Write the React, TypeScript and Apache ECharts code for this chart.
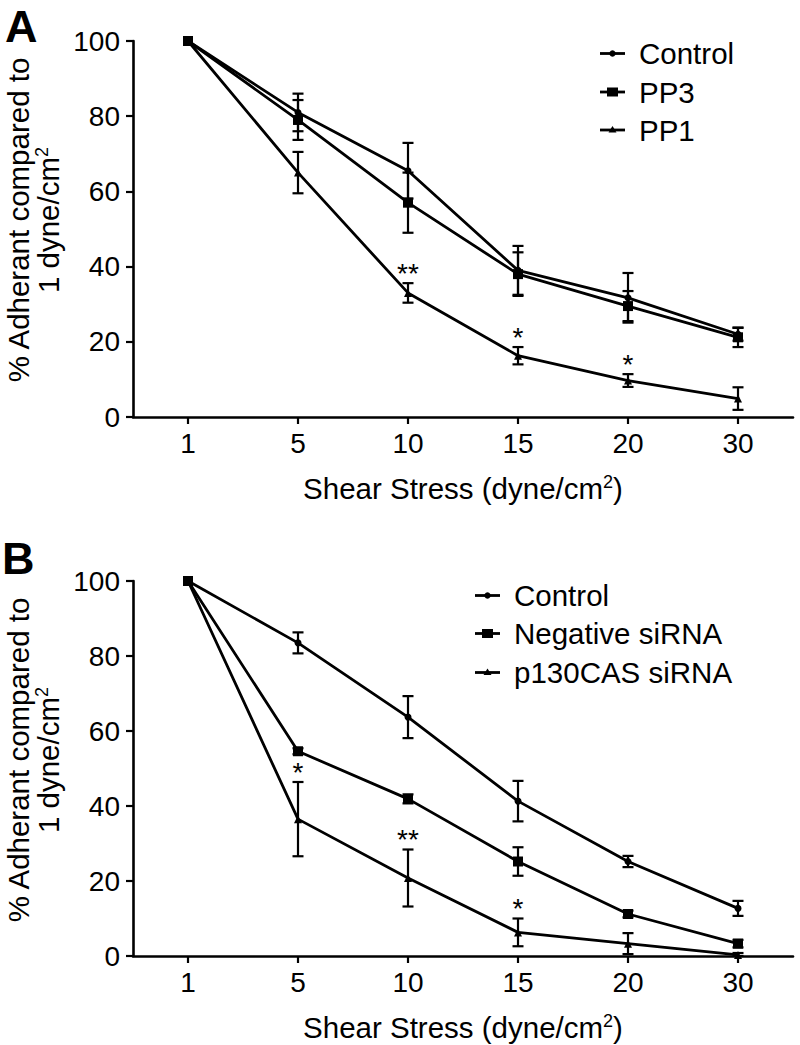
import React, { useEffect, useRef } from "react";
import * as echarts from "echarts";

const categories = ["1", "5", "10", "15", "20", "30"];

// Panel A
const controlA = [100, 81, 65.5, 39, 31.7, 22];
const controlAErr = [0, 5, 7.4, 6.5, 6.6, 1.7];
const pp3A = [100, 79, 57, 38, 29.5, 21.2];
const pp3AErr = [0, 5.3, 8, 5.8, 4, 2.6];
const pp1A = [100, 65, 33, 16.3, 9.7, 4.9];
const pp1AErr = [0, 5.5, 2.6, 2.3, 1.7, 3];
const sigA = ["", "", "**", "*", "*", ""];

// Panel B
const controlB = [100, 83.5, 63.7, 41.3, 25.2, 12.7];
const controlBErr = [0, 2.8, 5.6, 5.4, 1.5, 2];
const negB = [100, 54.6, 41.9, 25.2, 11.2, 3.3];
const negBErr = [0, 0.8, 1.2, 3.8, 0.9, 1];
const p130B = [100, 36.5, 20.8, 6.3, 3.3, 0.3];
const p130BErr = [0, 9.9, 7.6, 3.7, 2.8, 0.5];
const sigB = ["", "*", "**", "*", "", ""];

const legendA = ["Control", "PP3", "PP1"];
const legendB = ["Control", "Negative siRNA", "p130CAS siRNA"];
const markerTypes = ["circle", "rect", "triangle"];

const FONT = "Liberation Sans, Arial, Helvetica, sans-serif";
const BLACK = "#000";

function lineSeries(name: string, data: number[], idx: number, marker: string) {
  const size = marker === "rect" ? 10 : marker === "triangle" ? 8 : 7;
  return {
    type: "line",
    name,
    xAxisIndex: idx,
    yAxisIndex: idx,
    data,
    symbol: marker,
    symbolSize: size,
    showSymbol: true,
    lineStyle: { color: BLACK, width: 2.8 },
    itemStyle: { color: BLACK },
    z: 3,
  };
}

function errSeries(mean: number[], err: number[], idx: number) {
  return {
    type: "custom",
    xAxisIndex: idx,
    yAxisIndex: idx,
    data: mean.map((m, i) => [i, m, err[i]]),
    z: 4,
    renderItem: (params: any, api: any) => {
      const i = api.value(0);
      const m = api.value(1);
      const e = api.value(2);
      if (!e) return null;
      const top = api.coord([i, m + e]);
      const bot = api.coord([i, Math.max(0, m - e)]);
      const h = 5.5;
      const st = { stroke: BLACK, lineWidth: 2.2 };
      return {
        type: "group",
        children: [
          { type: "line", shape: { x1: top[0], y1: top[1], x2: bot[0], y2: bot[1] }, style: st },
          { type: "line", shape: { x1: top[0] - h, y1: top[1], x2: top[0] + h, y2: top[1] }, style: st },
          { type: "line", shape: { x1: bot[0] - h, y1: bot[1], x2: bot[0] + h, y2: bot[1] }, style: st },
        ],
      };
    },
  };
}

function sigSeries(mean: number[], err: number[], sig: string[], idx: number) {
  return {
    type: "custom",
    xAxisIndex: idx,
    yAxisIndex: idx,
    data: mean.map((m, i) => [i, m + err[i]]),
    z: 5,
    renderItem: (params: any, api: any) => {
      const t = sig[params.dataIndex];
      if (!t) return null;
      const p = api.coord([api.value(0), api.value(1)]);
      return {
        type: "text",
        style: {
          text: t,
          x: p[0],
          y: p[1] + 4,
          align: "center",
          verticalAlign: "bottom",
          fontSize: 28,
          fontFamily: FONT,
          fill: BLACK,
        },
      };
    },
  };
}

function xAxisCfg(idx: number) {
  return {
    type: "category",
    gridIndex: idx,
    data: categories,
    boundaryGap: true,
    axisLine: { show: true, lineStyle: { color: BLACK, width: 2.6 } },
    axisTick: { show: true, alignWithLabel: true, length: 7, lineStyle: { color: BLACK, width: 2.2 } },
    axisLabel: { color: BLACK, fontSize: 28, fontFamily: FONT, margin: 12 },
    splitLine: { show: false },
  };
}

function yAxisCfg(idx: number) {
  return {
    type: "value",
    gridIndex: idx,
    min: 0,
    max: 100,
    interval: 20,
    axisLine: { show: true, lineStyle: { color: BLACK, width: 2.6 } },
    axisTick: { show: true, length: 7, lineStyle: { color: BLACK, width: 2.2 } },
    axisLabel: { color: BLACK, fontSize: 28, fontFamily: FONT, margin: 13 },
    splitLine: { show: false },
  };
}

const supRich = {
  sup: { fontSize: 18, verticalAlign: "top", fontFamily: FONT, fill: BLACK },
};

function titleText(text: string, x: number, y: number, rotate: boolean) {
  return {
    type: "text",
    x,
    y,
    rotation: rotate ? Math.PI / 2 : 0,
    style: {
      text,
      x: 0,
      y: 0,
      align: "center",
      verticalAlign: "middle",
      fontSize: 29.5,
      fontFamily: FONT,
      fill: BLACK,
      rich: supRich,
    },
  };
}

function legendGraphics(names: string[], x0: number, textX: number, rows: number[]) {
  const out: any[] = [];
  names.forEach((n, i) => {
    const y = rows[i];
    out.push({ type: "line", shape: { x1: x0, y1: y, x2: x0 + 25, y2: y }, style: { stroke: BLACK, lineWidth: 2.8 } });
    const cx = x0 + 12.5;
    const mk = markerTypes[i];
    if (mk === "circle") out.push({ type: "circle", shape: { cx, cy: y, r: 3.2 }, style: { fill: BLACK } });
    else if (mk === "rect") out.push({ type: "rect", shape: { x: cx - 5.5, y: y - 4.5, width: 11, height: 9 }, style: { fill: BLACK } });
    else out.push({ type: "polygon", shape: { points: [[cx, y - 4], [cx - 4, y + 2.5], [cx + 4, y + 2.5]] }, style: { fill: BLACK } });
    out.push({
      type: "text",
      x: textX,
      y,
      style: { text: n, x: 0, y: 0, align: "left", verticalAlign: "middle", fontSize: 29.5, fontFamily: FONT, fill: BLACK },
    });
  });
  return out;
}

export default function App() {
  const ref = useRef<HTMLDivElement>(null);
  useEffect(() => {
    if (!ref.current) return;
    const chart = echarts.init(ref.current, null, { renderer: "svg" });
    const option: any = {
      animation: false,
      backgroundColor: "#fff",
      grid: [
        { left: 133, top: 41, width: 660, height: 376 },
        { left: 133, top: 581, width: 660, height: 375 },
      ],
      xAxis: [xAxisCfg(0), xAxisCfg(1)],
      yAxis: [yAxisCfg(0), yAxisCfg(1)],
      series: [
        lineSeries("Control", controlA, 0, "circle"),
        lineSeries("PP3", pp3A, 0, "rect"),
        lineSeries("PP1", pp1A, 0, "triangle"),
        errSeries(controlA, controlAErr, 0),
        errSeries(pp3A, pp3AErr, 0),
        errSeries(pp1A, pp1AErr, 0),
        sigSeries(pp1A, pp1AErr, sigA, 0),
        lineSeries("Control ", controlB, 1, "circle"),
        lineSeries("Negative siRNA", negB, 1, "rect"),
        lineSeries("p130CAS siRNA", p130B, 1, "triangle"),
        errSeries(controlB, controlBErr, 1),
        errSeries(negB, negBErr, 1),
        errSeries(p130B, p130BErr, 1),
        sigSeries(p130B, p130BErr, sigB, 1),
      ],
      graphic: [
        { type: "text", x: 5, y: 26, style: { text: "A", x: 0, y: 0, verticalAlign: "middle", fontSize: 45, fontWeight: "bold", fontFamily: FONT, fill: BLACK } },
        { type: "text", x: 2, y: 558, style: { text: "B", x: 0, y: 0, verticalAlign: "middle", fontSize: 45, fontWeight: "bold", fontFamily: FONT, fill: BLACK } },
        titleText("% Adherant compared to", 18, 220, true),
        titleText("1 dyne/cm{sup|2}", 48, 220, true),
        titleText("Shear Stress (dyne/cm{sup|2})", 463, 488, false),
        titleText("% Adherant compared to", 18, 760, true),
        titleText("1 dyne/cm{sup|2}", 48, 760, true),
        titleText("Shear Stress (dyne/cm{sup|2})", 463, 1027, false),
        ...legendGraphics(legendA, 600, 639, [53.5, 92, 130]),
        ...legendGraphics(legendB, 475, 514, [595.5, 633.5, 672.5]),
      ],
    };
    chart.setOption(option);
    return () => chart.dispose();
  }, []);
  return (
    <div
      ref={ref}
      style={{ position: "absolute", left: 0, top: 0, width: 800, height: 1045, background: "#fff" }}
    />
  );
}
